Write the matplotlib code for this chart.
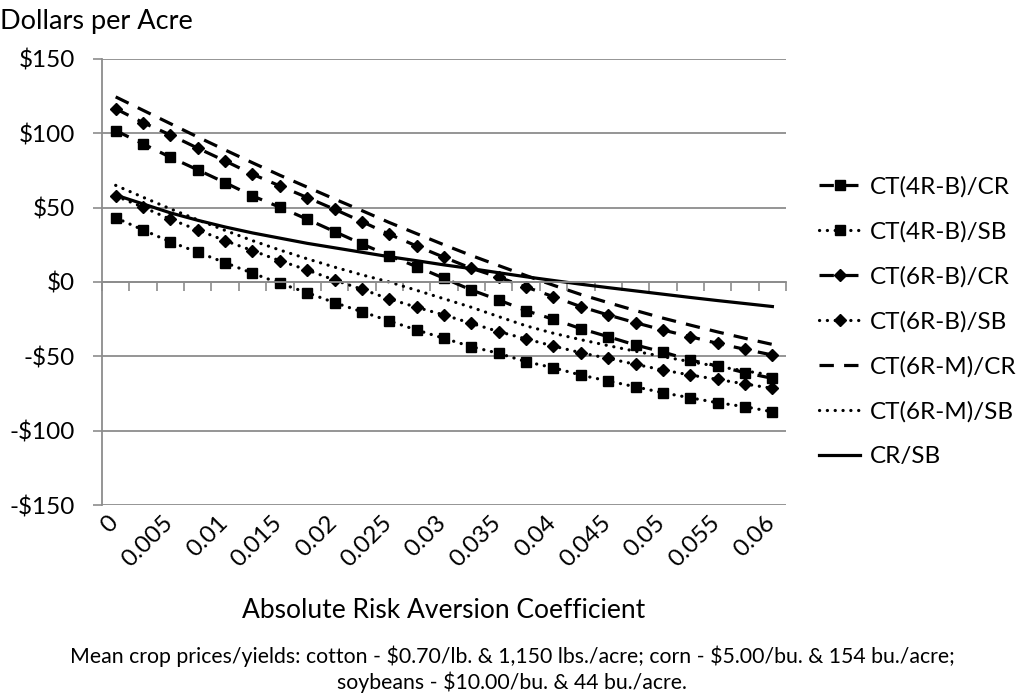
import numpy as np
import matplotlib.pyplot as plt
import matplotlib.transforms as mtransforms

plt.rcParams['font.family'] = ['Lato', 'DejaVu Sans']

# risk aversion coefficient runs 0 .. 0.06 in steps of 0.0025, labels every other point
x_labels = ['0', '0.005', '0.01', '0.015', '0.02', '0.025', '0.03',
            '0.035', '0.04', '0.045', '0.05', '0.055', '0.06']

# dollars per acre for each rotation comparison
cr_4rb = [101.8, 92.9, 83.9, 75.4, 66.8, 57.9, 50.3, 42.2, 33.9, 25.6, 17.7, 10.3, 2.5,
          -5.4, -12.1, -19.3, -25.1, -31.4, -36.8, -42.4, -47.1, -52.5, -56.5, -61.0, -64.8]
sb_4rb = [43.2, 35.0, 27.0, 20.0, 13.0, 5.9, -0.9, -7.2, -13.9, -20.0, -26.2, -32.3, -37.9,
          -43.5, -48.0, -53.6, -57.7, -62.6, -66.6, -70.5, -74.5, -77.9, -81.2, -83.9, -87.3]
cr_6rb = [116.5, 107.2, 98.9, 90.0, 81.4, 72.5, 64.6, 56.8, 48.9, 40.6, 32.1, 24.2, 16.6,
          9.2, 3.2, -3.4, -9.9, -16.6, -22.2, -27.4, -32.3, -36.8, -41.3, -45.3, -49.1]
sb_6rb = [57.9, 50.3, 42.2, 35.0, 27.8, 21.1, 14.3, 8.1, 1.3, -4.9, -11.4, -17.0, -22.2,
          -27.8, -33.4, -38.3, -43.1, -47.6, -51.4, -55.4, -59.2, -62.6, -65.5, -68.6, -71.5]
cr_6rm = [124.5, 115.5, 106.5, 97.5, 88.8, 80.2, 71.8, 63.8, 55.8, 48.0, 40.0, 32.5, 25.0,
          17.8, 11.0, 4.3, -2.2, -8.4, -13.9, -19.2, -24.3, -29.0, -33.6, -37.9, -42.0]
sb_6rm = [65.0, 57.0, 49.2, 41.8, 34.7, 27.8, 21.5, 15.6, 10.0, 4.8, 0.0, -5.6, -11.3,
          -17.0, -23.3, -29.5, -34.5, -38.8, -42.8, -46.6, -50.2, -53.6, -56.8, -59.8, -62.7]
cr_sb = [58.5, 52.5, 46.5, 41.5, 37.0, 33.0, 29.5, 26.0, 23.0, 20.0, 17.0, 14.3, 11.5,
         9.0, 6.2, 3.5, 1.0, -1.5, -3.8, -6.0, -8.2, -10.4, -12.5, -14.5, -16.5]

y_ticks = [-150, -100, -50, 0, 50, 100, 150]
y_labels = ['-\\$150', '-\\$100', '-\\$50', '\\$0', '\\$50', '\\$100', '\\$150']

gris = '#8c8c8c'
dash = (0, (4.5, 3.2))
dots = (0, (0.05, 2.4))

fig = plt.figure(figsize=(10.21, 6.98), dpi=100)
ax = fig.add_axes([0.0999, 0.2765, 0.6700, 0.639])

x = np.arange(len(cr_4rb))
series = [
    (cr_4rb, dash, 's', 'CT(4R-B)/CR'),
    (sb_4rb, dots, 's', 'CT(4R-B)/SB'),
    (cr_6rb, dash, 'D', 'CT(6R-B)/CR'),
    (sb_6rb, dots, 'D', 'CT(6R-B)/SB'),
    (cr_6rm, dash, None, 'CT(6R-M)/CR'),
    (sb_6rm, dots, None, 'CT(6R-M)/SB'),
    (cr_sb, '-', None, 'CR/SB'),
]
for vals, ls, mk, nombre in series:
    ms = 7.5 if mk == 's' else 6
    ax.plot(x, vals, color='black', lw=2.3, ls=ls, marker=mk, ms=ms,
            dash_capstyle='round' if ls is dots else 'butt', label=nombre)

ax.set_xlim(-0.5, len(x) - 0.5)
ax.set_ylim(-150, 150)
ax.set_yticks(y_ticks, labels=y_labels)
ax.tick_params(axis='y', length=6.5, color=gris, width=1.2, pad=13, labelsize=17.5)
ax.grid(axis='y', color=gris, lw=1.3)
ax.set_axisbelow(True)

for lado in ['top', 'right']:
    ax.spines[lado].set_visible(False)
ax.spines['left'].set_color(gris)
ax.spines['left'].set_linewidth(1.3)

# horizontal axis sits at zero, tick marks between categories
ax.spines['bottom'].set_position(('data', 0))
ax.spines['bottom'].set_color(gris)
ax.spines['bottom'].set_linewidth(1.3)
ax.set_xticks(np.arange(-0.5, len(x), 1))
ax.tick_params(axis='x', length=6.5, color=gris, width=1.2, labelbottom=False)

# category labels along the bottom of the plot
sec = ax.secondary_xaxis('bottom')
sec.set_xticks(x[::2], labels=x_labels)
sec.tick_params(length=0, pad=5, labelsize=17.5)
sec.spines['bottom'].set_visible(False)
corrimiento = mtransforms.ScaledTranslation(-6 / 72, 0, fig.dpi_scale_trans)
for t in sec.get_xticklabels():
    t.set_rotation(45)
    t.set_ha('right')
    t.set_va('top')
    t.set_rotation_mode('anchor')
    t.set_transform(t.get_transform() + corrimiento)

fig.legend(loc='upper left', bbox_to_anchor=(0.802, 0.748), frameon=False,
           fontsize=17.5, handlelength=1.7, handletextpad=0.4, labelspacing=0.97,
           borderpad=0, borderaxespad=0)

fig.text(0.0, 1 - 22 / 698, 'Dollars per Acre', ha='left', va='center', fontsize=19.5)
fig.text(444 / 1021, 1 - 610 / 698, 'Absolute Risk Aversion Coefficient',
         ha='center', va='center', fontsize=19)
fig.text(512 / 1021, 1 - 656 / 698,
         'Mean crop prices/yields: cotton - \\$0.70/lb. & 1,150 lbs./acre; corn - \\$5.00/bu. & 154 bu./acre;',
         ha='center', va='center', fontsize=15.3)
fig.text(512 / 1021, 1 - 682 / 698, 'soybeans - \\$10.00/bu. & 44 bu./acre.',
         ha='center', va='center', fontsize=15.3)

fig.savefig('out.png', dpi=100)
